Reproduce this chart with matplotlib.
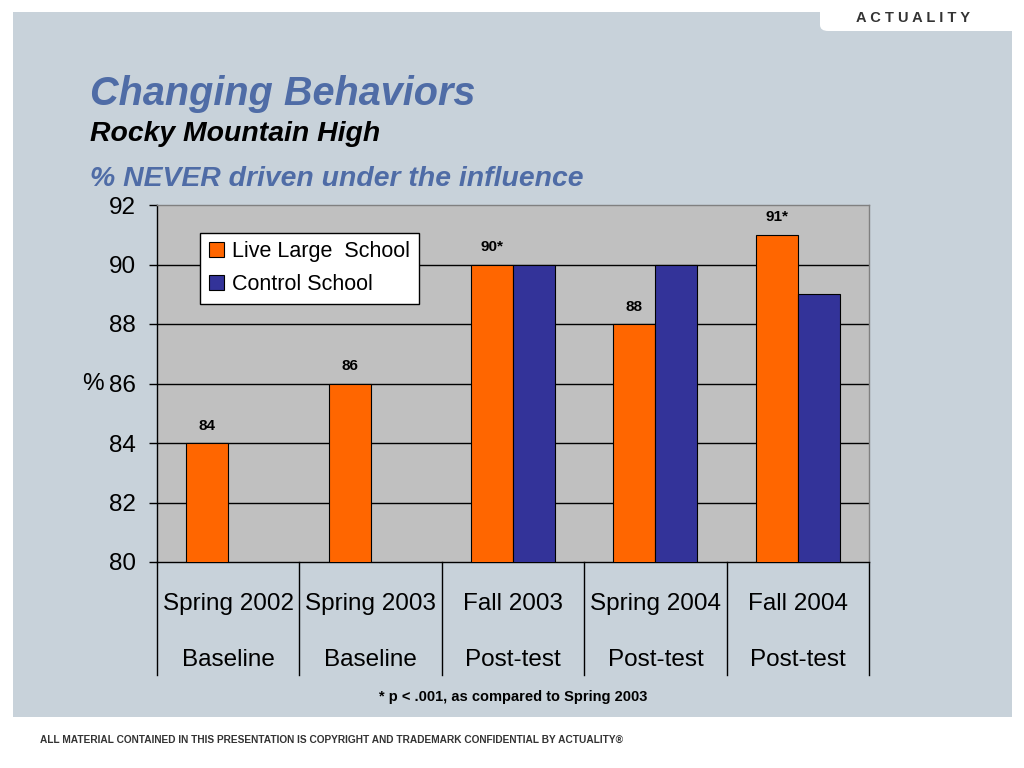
import matplotlib
matplotlib.use("Agg")
import matplotlib.pyplot as plt
from matplotlib.patches import Rectangle, FancyBboxPatch
import numpy as np

plt.rcParams['font.family'] = ['Liberation Sans', 'DejaVu Sans']

# data
seasons = ["Spring 2002", "Spring 2003", "Fall 2003", "Spring 2004", "Fall 2004"]
phases = ["Baseline", "Baseline", "Post-test", "Post-test", "Post-test"]
live_large = [84, 86, 90, 88, 91]
control = [None, None, 90, 90, 89]
bar_labels = ["84", "86", "90*", "88", "91*"]

orange = "#ff6600"
navy = "#333399"
panel_col = "#c8d2da"
title_blue = "#4f6ca6"

fig = plt.figure(figsize=(10.24, 7.68), dpi=100)
fig.patch.set_facecolor("white")

# slide background panel
fig.patches.append(Rectangle((13 / 1024, 1 - 717 / 768), 999 / 1024, 705 / 768,
                             transform=fig.transFigure, facecolor=panel_col,
                             edgecolor="none", zorder=-2))
# white tab top right
fig.patches.append(FancyBboxPatch((820 / 1024, 1 - 31 / 768), 0.3, 0.1,
                                  boxstyle="round,pad=0,rounding_size=0.008",
                                  transform=fig.transFigure, facecolor="white",
                                  edgecolor="none", zorder=-1))
fig.text(913 / 1024, 1 - 18 / 768, "A C T U A L I T Y", ha="center", va="center",
         fontsize=10.5, fontweight="bold", color="#333333")

# titles
fig.text(90 / 1024, 1 - 94 / 768, "Changing Behaviors", fontsize=28.5, fontweight="bold",
         fontstyle="italic", color=title_blue, va="center", ha="left")
fig.text(90 / 1024, 1 - 134 / 768, "Rocky Mountain High", fontsize=20.4, fontweight="bold",
         fontstyle="italic", color="black", va="center", ha="left")
fig.text(90 / 1024, 1 - 179 / 768, "% NEVER driven under the influence", fontsize=20.4,
         fontweight="bold", fontstyle="italic", color=title_blue, va="center", ha="left")

ax = fig.add_axes([157 / 1024, 1 - 562 / 768, 712 / 1024, 357 / 768])
ax.set_facecolor("#c0c0c0")

x = np.arange(len(seasons))
w = 0.295
ax.bar(x - w / 2, live_large, w, bottom=0, color=orange, edgecolor="black",
       linewidth=0.8, label="Live Large  School", zorder=3)
cx = [xi for xi, v in zip(x, control) if v is not None]
cv = [v for v in control if v is not None]
ax.bar(np.array(cx) + w / 2, cv, w, color=navy, edgecolor="black", linewidth=0.8,
       label="Control School", zorder=3)

for xi, v, lab in zip(x, live_large, bar_labels):
    ax.annotate(lab, (xi - w / 2, v), xytext=(0, 12.5), textcoords="offset points",
                ha="center", va="center", fontsize=11, fontweight="bold")

ax.set_xlim(-0.5, len(seasons) - 0.5)
ax.set_ylim(80, 92)
ax.set_yticks(np.arange(80, 93, 2))
ax.tick_params(axis="y", direction="out", length=6, width=1, pad=9, labelsize=17.5)
ax.set_xticks([])
for yv in range(82, 92, 2):
    ax.axhline(yv, color="black", linewidth=1, zorder=1)

for s in ["top", "right"]:
    ax.spines[s].set_color("#808080")
    ax.spines[s].set_linewidth(1)
for s in ["left", "bottom"]:
    ax.spines[s].set_color("black")
    ax.spines[s].set_linewidth(1)

ax.text(-0.09, 0.5, "%", transform=ax.transAxes, fontsize=17.5, ha="center", va="center")

# category table below axis
xt = ax.get_xaxis_transform()
for b in np.arange(-0.5, len(seasons), 1.0):
    ax.plot([b, b], [0, -0.317], color="black", linewidth=1, transform=xt, clip_on=False)
for xi, s, p in zip(x, seasons, phases):
    ax.text(xi, -0.118, s, transform=xt, ha="center", va="center", fontsize=17.5)
    ax.text(xi, -0.275, p, transform=xt, ha="center", va="center", fontsize=17.5)

leg = ax.legend(loc="upper left", bbox_to_anchor=(0.0604, 0.922), borderaxespad=0,
                fontsize=15.5, frameon=True, fancybox=False, edgecolor="black",
                framealpha=1, handlelength=0.7, handleheight=0.7, handletextpad=0.4,
                labelspacing=0.55, borderpad=0.4)
leg.get_frame().set_linewidth(1)

fig.text(513 / 1024, 1 - 697 / 768, "* p < .001, as compared to Spring 2003",
         ha="center", va="center", fontsize=10.5, fontweight="bold")

fig.text(40 / 1024, 1 - 740 / 768,
         "ALL MATERIAL CONTAINED IN THIS PRESENTATION IS COPYRIGHT AND TRADEMARK CONFIDENTIAL BY ACTUALITY\u00ae",
         ha="left", va="center", fontsize=7.3, fontweight="bold", color="#333333")

fig.savefig("out.png", dpi=100, facecolor=fig.get_facecolor())
